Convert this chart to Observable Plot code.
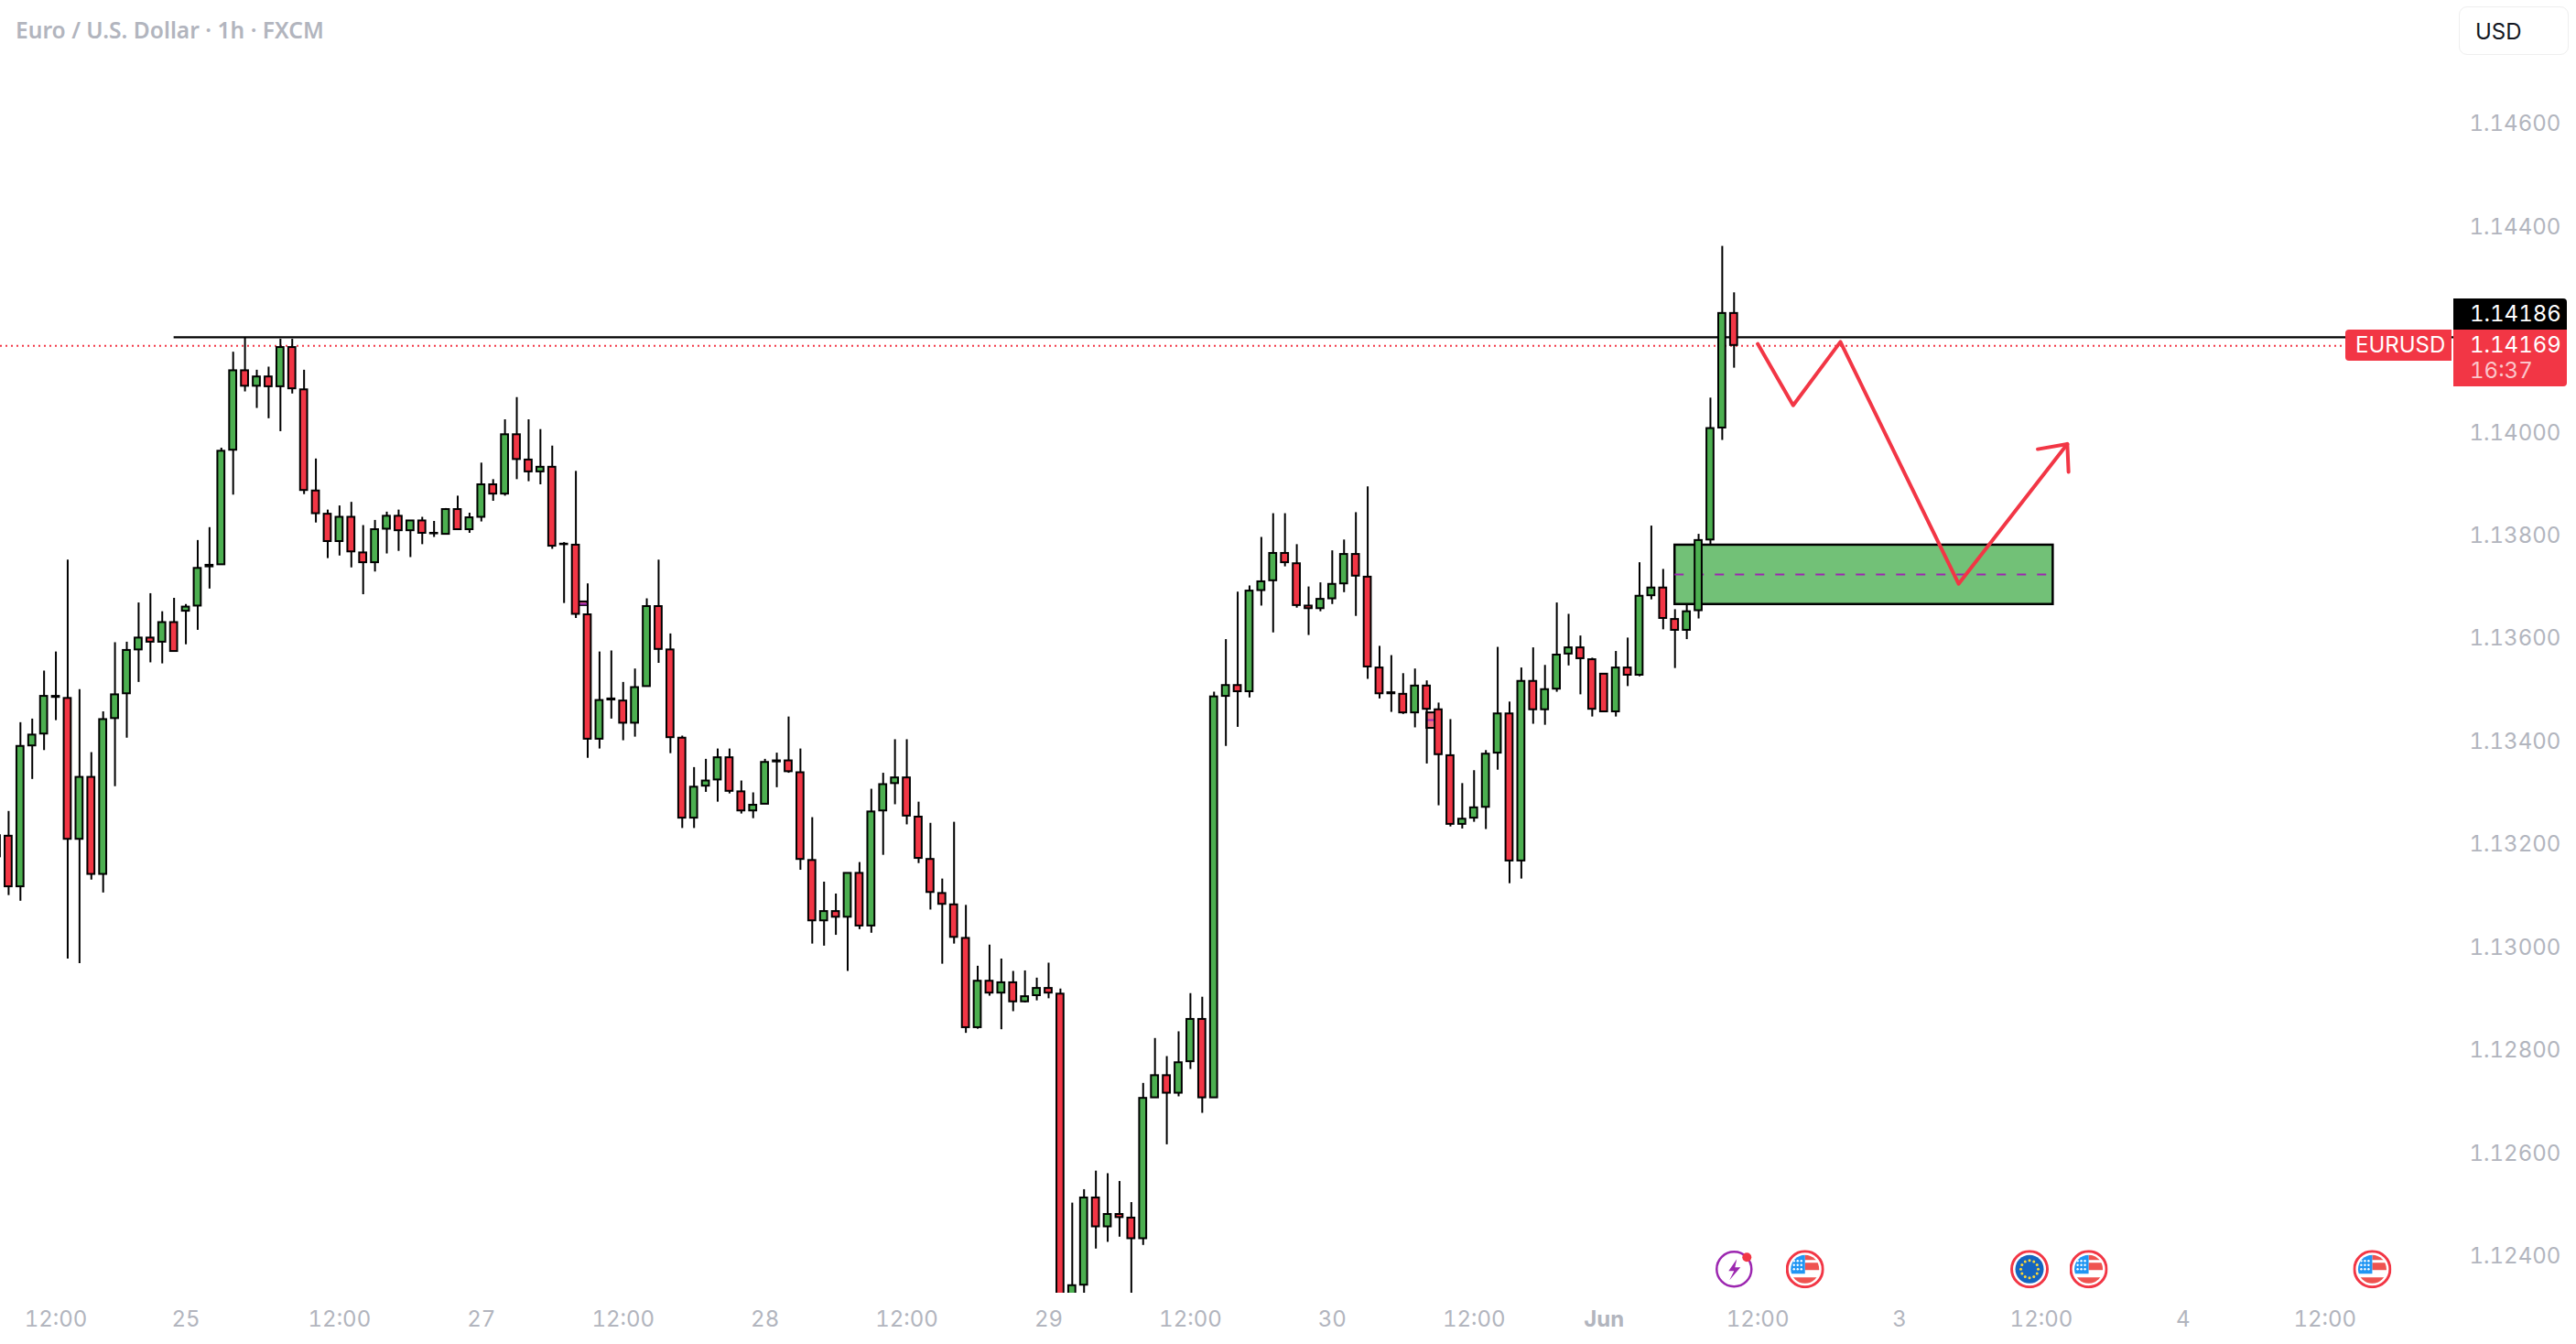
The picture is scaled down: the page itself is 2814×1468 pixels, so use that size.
<!DOCTYPE html>
<html><head><meta charset="utf-8">
<script src="https://cdn.jsdelivr.net/npm/d3@7"></script>
<script src="https://cdn.jsdelivr.net/npm/@observablehq/plot@0.6"></script>
<style>
html,body{margin:0;padding:0;background:#fff;width:2814px;height:1468px;overflow:hidden}
#wrap{position:relative;width:2814px;height:1468px;font-family:Inter,sans-serif}
#wrap svg{display:block}
.ov{position:absolute;box-sizing:border-box;white-space:nowrap;line-height:1;font-variant-numeric:tabular-nums}
</style></head><body><div id="wrap"></div>
<script>
// Prices are in points (price x 100000)
const opens=[113180,113220,113122,113395,113418,113491,113487,113214,113334,113146,113448,113496,
113581,113604,113596,113634,113656,113666,113745,113746,113968,114122,114092,114110,
114091,114167,114085,113889,113844,113791,113838,113769,113750,113815,113840,113812,
113831,113807,113805,113853,113814,113838,113901,113883,113998,113949,113926,113935,
113786,113784,113649,113408,113486,113482,113439,113510,113665,113581,113410,113255,
113317,113329,113372,113306,113269,113282,113366,113366,113343,113173,113056,113074,
113063,113148,113046,113269,113322,113333,113257,113175,113109,113087,113022,112849,
112939,112916,112936,112899,112911,112925,112914,112300,112350,112519,112463,112487,
112480,112440,112713,112756,112722,112783,112865,112713,113491,113512,113500,113696,
113715,113768,113748,113666,113661,113680,113709,113766,113722,113546,113498,113495,
113459,113511,113465,113376,113243,113255,113276,113381,113457,113172,113520,113465,
113505,113573,113585,113562,113534,113461,113546,113532,113686,113701,113640,113619,
113657,113794,114011,114233];
const highs=[113221,113268,113440,113447,113540,113577,113755,113504,113382,113461,113595,113596,
113672,113690,113655,113681,113669,113793,113818,113972,114158,114186,114123,114129,
114183,114183,114123,113951,113852,113860,113867,113822,113832,113848,113852,113831,
113838,113830,113855,113879,113846,113943,113911,114027,114070,114027,114008,113976,
113789,113927,113709,113577,113579,113518,113544,113680,113755,113612,113414,113353,
113369,113389,113389,113327,113304,113369,113381,113451,113389,113256,113131,113108,
113148,113169,113311,113342,113407,113407,113286,113245,113137,113247,113086,112968,
113009,112982,112958,112959,112945,112974,112924,112509,112535,112571,112566,112551,
112510,112741,112828,112793,112841,112915,112908,113499,113601,113693,113705,113799,
113845,113845,113785,113703,113711,113773,113794,113847,113897,113588,113570,113535,
113544,113521,113478,113446,113322,113347,113386,113586,113480,113546,113585,113551,
113672,113650,113608,113565,113534,113578,113604,113750,113821,113737,113659,113667,
113805,114069,114363,114273];
const lows=[113180,113105,113094,113330,113386,113444,112982,112973,113135,113110,113316,113410,
113518,113556,113554,113578,113591,113619,113699,113746,113881,114081,114049,114029,
114004,114077,113882,113827,113758,113763,113740,113688,113732,113767,113772,113760,
113785,113799,113805,113814,113807,113829,113869,113879,113911,113907,113901,113776,
113671,113642,113371,113389,113447,113405,113412,113510,113555,113380,113235,113235,
113305,113286,113302,113263,113254,113282,113314,113342,113154,113011,113007,113028,
112958,113039,113032,113183,113281,113242,113167,113077,112972,113011,112838,112846,
112910,112845,112880,112897,112901,112905,112300,112290,112300,112420,112433,112443,
112300,112427,112713,112622,112715,112768,112683,112713,113394,113431,113488,113666,
113614,113742,113662,113609,113655,113669,113692,113646,113524,113486,113460,113456,
113430,113360,113279,113238,113234,113247,113233,113348,113128,113137,113437,113435,
113499,113550,113494,113451,113461,113451,113510,113529,113678,113620,113545,113601,
113641,113785,113987,114127];
const closes=[113221,113122,113394,113416,113491,113489,113214,113334,113146,113446,113494,113580,
113604,113596,113634,113578,113664,113739,113742,113966,114122,114092,114110,114091,
114167,114087,113890,113845,113791,113838,113771,113750,113814,113840,113812,113831,
113807,113806,113853,113814,113837,113901,113883,113998,113950,113926,113935,113782,
113785,113650,113408,113483,113484,113439,113508,113665,113582,113411,113255,113315,
113327,113372,113307,113269,113280,113363,113364,113345,113175,113056,113074,113063,
113148,113046,113267,113320,113333,113259,113177,113111,113088,113024,112849,112939,
112916,112936,112899,112909,112925,112916,112300,112349,112519,112463,112487,112481,
112440,112712,112756,112722,112781,112865,112713,113490,113512,113500,113695,113713,
113768,113750,113667,113661,113679,113708,113766,113724,113548,113496,113496,113459,
113511,113466,113378,113243,113253,113275,113379,113457,113172,113520,113465,113504,
113571,113585,113564,113466,113461,113546,113532,113685,113701,113642,113619,113655,
113793,114010,114233,114171];

const priceTicks=[1.124,1.126,1.128,1.13,1.132,1.134,1.136,1.138,1.14,1.144,1.146];
const timeTicks=[5,16,29,41,53,65,77,89,101,113,125,149,161,173,185,197];
const timeLabels=["12:00","25","12:00","27","12:00","28","12:00","29","12:00","30","12:00","12:00","3","12:00","4","12:00"];
const monthTicks=[136], monthLabels=["Jun"];

// The readings below were taken with a ruler 0.243% too short against the price ticks; this corrects them.
const readingCorrection=p=>1.146-(1.146-p)*1.00243;

const resistancePrice=1.14186, lastPrice=1.14169, resistanceFrom=15;
const zoneFrom=142, zoneTo=174, zoneTop=readingCorrection(1.13784), zoneBottom=readingCorrection(1.13669), zoneMid=readingCorrection(1.13727);
const redZoneFrom=[49,121], redZoneTo=[50,122], redZoneTop=[1.13674,1.13459], redZoneBottom=[1.13667,1.13429], redZoneMid=[1.13670,1.13445];
const pathIdx=[149,152,156,166,175.2], pathPrice=[1.14174,1.14055,1.14178,1.13709,1.13980];
const headIdx=[172.7,175.2,175.3], headPrice=[1.13970,1.13980,1.13926];
const eventIdx=[147,153,172,177,201], eventKind=["bolt","us","eu","us","us"], eventPrice=readingCorrection(1.12381);

const candles=opens.map((o,i)=>({i,open:readingCorrection(o/1e5),high:readingCorrection(highs[i]/1e5),low:readingCorrection(lows[i]/1e5),close:readingCorrection(closes[i]/1e5)}));
const redZones=redZoneFrom.map((a,k)=>({a,b:redZoneTo[k],t:readingCorrection(redZoneTop[k]),u:readingCorrection(redZoneBottom[k]),m:readingCorrection(redZoneMid[k])}));
const uri=s=>"data:image/svg+xml;charset=utf-8,"+encodeURIComponent(s);
const stars=(()=>{let s="";for(const y of [12,16.5,21])for(const x of [9,13,17])s+=`<circle cx="${x}" cy="${y}" r="1.2" fill="#fff"/>`;return s})();
const icons={
 us:uri(`<svg xmlns="http://www.w3.org/2000/svg" viewBox="0 0 42 42"><circle cx="21" cy="21" r="19.5" fill="#fff" stroke="#f23645" stroke-width="3"/><clipPath id="c"><circle cx="21" cy="21" r="15.5"/></clipPath><g clip-path="url(#c)"><rect x="5" y="5" width="32" height="32" fill="#fff"/><rect x="21" y="5" width="16" height="6" fill="#ef5350"/><rect x="21" y="14" width="16" height="8" fill="#ef5350"/><rect x="5" y="30" width="32" height="8" fill="#ef5350"/><rect x="5" y="5" width="16" height="21" fill="#2196f3"/>${stars}</g></svg>`),
 eu:uri(`<svg xmlns="http://www.w3.org/2000/svg" viewBox="0 0 42 42"><circle cx="21" cy="21" r="19.5" fill="#fff" stroke="#f23645" stroke-width="3"/><circle cx="21" cy="21" r="15.5" fill="#1565c0"/>${d3.range(12).map(k=>`<circle cx="${21+9.5*Math.cos(k*Math.PI/6)}" cy="${21+9.5*Math.sin(k*Math.PI/6)}" r="1.5" fill="#fdd835"/>`).join("")}</svg>`),
 bolt:uri(`<svg xmlns="http://www.w3.org/2000/svg" viewBox="0 0 42 42"><circle cx="21" cy="21" r="19" fill="#fff" stroke="#9c27b0" stroke-width="2.5"/><path d="M24 10 L15 23 H21 L16 33 L28 19 H22 Z" fill="#9c27b0"/><circle cx="35" cy="8" r="5" fill="#f23645"/></svg>`)
};
const events=eventIdx.map((i,k)=>({i,kind:eventKind[k]}));

const green="#4caf50", red="#f23645", axisGrey="#b2b5be";
const chart=Plot.plot({
  width:2814,height:1468,marginLeft:0,marginRight:134,marginTop:0,marginBottom:56,
  style:{fontFamily:"Inter, sans-serif",background:"#fff",overflow:"hidden"},
  x:{type:"linear",domain:[0.31,207.9]},
  y:{type:"linear",domain:[1.123289,1.148401]},
  color:{type:"identity"},
  marks:[
    Plot.axisX({ticks:timeTicks,tickFormat:d=>timeLabels[timeTicks.indexOf(d)],tickSize:0,tickPadding:19,fontSize:24,color:axisGrey,label:null}),
    Plot.axisX({ticks:monthTicks,tickFormat:d=>monthLabels[monthTicks.indexOf(d)],tickSize:0,tickPadding:19,fontSize:24,fontWeight:700,color:axisGrey,label:null}),
    Plot.axisY({anchor:"right",ticks:priceTicks,tickFormat:d=>d.toFixed(5),tickSize:0,tickPadding:17,fontSize:24,color:axisGrey,label:null,textAnchor:"start"}),
    Plot.rect(redZones,{x1:"a",x2:"b",y1:"u",y2:"t",fill:"#f66f80",stroke:"#000",strokeWidth:2}),
    Plot.ruleY(redZones,{x1:"a",x2:"b",y:"m",stroke:"#9c27b0",strokeWidth:2}),
    Plot.rect([{}],{x1:()=>zoneFrom,x2:()=>zoneTo,y1:()=>zoneBottom,y2:()=>zoneTop,fill:"#72c177",stroke:"#000",strokeWidth:2.5}),
    Plot.ruleY([zoneMid],{x1:zoneFrom,x2:zoneTo,stroke:"#9c27b0",strokeWidth:2,strokeDasharray:"10 12"}),
    Plot.ruleY([resistancePrice],{x1:resistanceFrom,x2:207.9,stroke:"#000",strokeWidth:2.2}),
    Plot.ruleY([lastPrice],{stroke:red,strokeWidth:2,strokeDasharray:"2 4"}),
    Plot.ruleX(candles,{x:"i",y1:"low",y2:"high",stroke:"#000",strokeWidth:2,clip:true}),
    Plot.rect(candles,{x1:d=>d.i-0.3,x2:d=>d.i+0.3,y1:"open",y2:"close",fill:d=>d.close>=d.open?green:red,stroke:"#000",strokeWidth:2,clip:true}),
    Plot.line(pathIdx.map((x,k)=>({x,y:readingCorrection(pathPrice[k])})),{x:"x",y:"y",stroke:red,strokeWidth:4}),
    Plot.line(headIdx.map((x,k)=>({x,y:readingCorrection(headPrice[k])})),{x:"x",y:"y",stroke:red,strokeWidth:4}),
    Plot.image(events,{x:"i",y:()=>eventPrice,src:d=>icons[d.kind],width:42,height:42})
  ]
});
const wrap=document.getElementById("wrap");
wrap.appendChild(chart);
function ov(text,css){const d=document.createElement("div");d.className="ov";d.textContent=text;d.style.cssText=css;wrap.appendChild(d);return d}
ov("Euro / U.S. Dollar · 1h · FXCM","left:17px;top:16px;font:600 24.6px 'Noto Sans',sans-serif;color:#b2b5be");
ov("USD","left:2686px;top:7px;width:120px;height:53px;padding:15px 0 0 17px;border:1.5px solid #eeeeee;border-radius:9px;font-size:24px;color:#131722;background:#fff");
ov("EURUSD","left:2562px;top:360px;width:116px;height:34px;padding:5px 0 0 11px;background:#f23645;border-radius:4px 0 0 4px;color:#fff;font-size:24px");
ov("1.14186","left:2680px;top:326px;width:124px;height:34px;padding:5px 0 0 18px;background:#000;border-radius:0 4px 0 0;color:#fff;font-size:24px");
ov("1.14169","left:2680px;top:360px;width:124px;height:62px;padding:5px 0 0 18px;background:#f23645;border-radius:0 0 4px 0;color:#fff;font-size:24px");
ov("16:37","left:2698px;top:393px;color:rgba(255,255,255,.72);font-size:24px");
</script></body></html>
